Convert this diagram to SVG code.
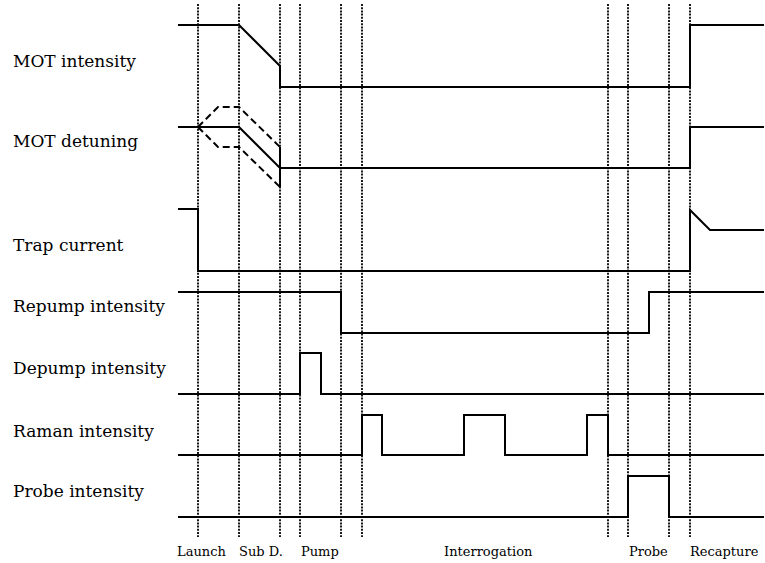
<svg xmlns="http://www.w3.org/2000/svg" width="765" height="563" viewBox="0 0 765 563">
<style>
.sig{fill:none;stroke:#000;stroke-width:2;stroke-linejoin:miter}
.dash{fill:none;stroke:#000;stroke-width:2;stroke-dasharray:7 4}
.dot{fill:none;stroke:#000;stroke-width:1.8;stroke-dasharray:2 1.2}
.lab{font-family:"DejaVu Serif","Liberation Serif",serif;font-size:17px;fill:#000}
.ph{font-family:"DejaVu Serif","Liberation Serif",serif;font-size:13px;fill:#000}
</style>
<rect width="765" height="563" fill="#fff"/>
<g id="markers">
<path class="dot" d="M198 4V537M239 4V537M280 4V537M300 4V537M341 4V537M362 4V537M608 4V537M628 4V537M669 4V537M690 4V537"/>
</g>
<g id="mot-intensity">
<text class="lab" x="13" y="67">MOT intensity</text>
<path class="sig" d="M178 25H239L280 66V87H690V25H764"/>
</g>
<g id="mot-detuning">
<text class="lab" x="13" y="147">MOT detuning</text>
<path class="sig" d="M178 127H239L280 168H690V127H764"/>
<path class="sig" d="M280 147V187"/>
<path class="dash" d="M198 127L218 107H239L280 147"/>
<path class="dash" d="M198 127L218 147H239L280 187"/>
</g>
<g id="trap-current">
<text class="lab" x="13" y="251">Trap current</text>
<path class="sig" d="M178 209H198V271H690V210L710 230H764"/>
</g>
<g id="repump-intensity">
<text class="lab" x="13" y="312">Repump intensity</text>
<path class="sig" d="M178 292H341V333H649V292H764"/>
</g>
<g id="depump-intensity">
<text class="lab" x="13" y="374">Depump intensity</text>
<path class="sig" d="M178 394H300V353H321V394H764"/>
</g>
<g id="raman-intensity">
<text class="lab" x="13" y="437">Raman intensity</text>
<path class="sig" d="M178 455H362V415H382V455H464V415H505V455H587V415H608V455H764"/>
</g>
<g id="probe-intensity">
<text class="lab" x="13" y="497">Probe intensity</text>
<path class="sig" d="M178 517H628V476H669V517H764"/>
</g>
<g id="phases">
<text class="ph" x="177" y="556">Launch</text>
<text class="ph" x="239" y="556">Sub D.</text>
<text class="ph" x="301" y="556">Pump</text>
<text class="ph" x="444" y="556">Interrogation</text>
<text class="ph" x="629" y="556">Probe</text>
<text class="ph" x="690" y="556">Recapture</text>
</g>
</svg>
